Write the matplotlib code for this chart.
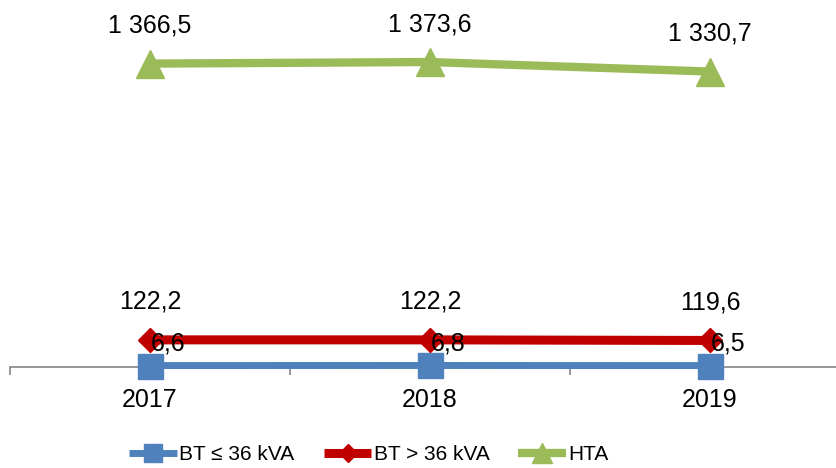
import matplotlib
matplotlib.use("Agg")
import matplotlib.pyplot as plt

years = ["2017", "2018", "2019"]
bt_small = [6.6, 6.8, 6.5]
bt_large = [122.2, 122.2, 119.6]
hta = [1366.5, 1373.6, 1330.7]
series_names = ["BT ≤ 36 kVA", "BT > 36 kVA", "HTA"]

def fmt(v):
    s = f"{v:,.1f}"
    return s.replace(",", " ").replace(".", ",")

plt.rcParams['font.family'] = ['Liberation Sans', 'DejaVu Sans']

W, H = 836, 468
fig = plt.figure(figsize=(W / 100, H / 100), dpi=100)
ax = fig.add_axes([10 / W, (H - 367) / H, 840 / W, 367 / H])
ax.set_xlim(-0.5, 2.5)
ax.set_ylim(0, 1653)

x = list(range(len(years)))
blue, red, green = "#4F81BD", "#C00000", "#9BBB59"

ax.plot(x, bt_small, color=blue, lw=5, marker="s", ms=18, label=series_names[0],
        solid_capstyle="butt", zorder=3, clip_on=False)
ax.plot(x, bt_large, color=red, lw=6.5, marker="D", ms=12, label=series_names[1],
        solid_capstyle="butt", zorder=3, clip_on=False)
ax.plot(x, hta, color=green, lw=6, marker="^", ms=20, label=series_names[2],
        solid_capstyle="butt", zorder=3, clip_on=False)

for xi, v in zip(x, hta):
    ax.annotate(fmt(v), (xi, v), xytext=(0, 38), textcoords="offset pixels",
                ha="center", va="center", fontsize=18, zorder=5)
for xi, v in zip(x, bt_large):
    ax.annotate(fmt(v), (xi, v), xytext=(0, 38), textcoords="offset pixels",
                ha="center", va="center", fontsize=18, zorder=5)
for xi, v in zip(x, bt_small):
    ax.annotate(fmt(v), (xi, v), xytext=(18, 22), textcoords="offset pixels",
                ha="center", va="center", fontsize=18, zorder=5)

for s in ["top", "right", "left"]:
    ax.spines[s].set_visible(False)
ax.spines["bottom"].set_color("#868686")
ax.spines["bottom"].set_linewidth(1.2)
ax.set_yticks([])
ax.set_xticks(x)
ax.set_xticklabels(years, fontsize=18)
ax.tick_params(axis="x", which="major", length=0, pad=15)
ax.set_xticks([-0.5, 0.5, 1.5, 2.5], minor=True)
ax.tick_params(axis="x", which="minor", length=6, color="#868686", width=1.2)

fig.legend(loc="center", bbox_to_anchor=(369 / W, 13 / H), ncol=3, frameon=False,
           fontsize=15, handlelength=2.3, handletextpad=0.1, columnspacing=1.4,
           markerscale=0.75)

fig.savefig("out.png", dpi=100)
